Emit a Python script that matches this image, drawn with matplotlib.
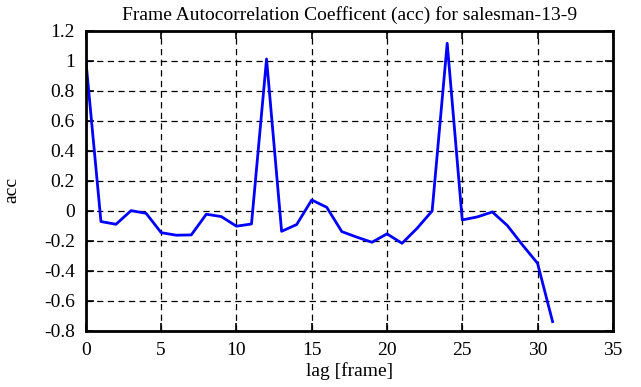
import matplotlib
matplotlib.use('Agg')
import matplotlib.pyplot as plt

plt.rcParams['font.family'] = ['Liberation Serif', 'DejaVu Serif']
plt.rcParams['axes.unicode_minus'] = False

# lag in frames and the autocorrelation
lag = list(range(32))
acc = [1.0, -0.071, -0.089, 0.002, -0.016, -0.145, -0.162, -0.16,
       -0.022, -0.038, -0.102, -0.087, 1.013, -0.136, -0.091, 0.073,
       0.024, -0.138, -0.175, -0.209, -0.153, -0.216, -0.116, 0.0,
       1.118, -0.06, -0.04, -0.007, -0.098, -0.227, -0.349, -0.738]

xticks = [0, 5, 10, 15, 20, 25, 30, 35]
yticks = [-0.8, -0.6, -0.4, -0.2, 0, 0.2, 0.4, 0.6, 0.8, 1, 1.2]

fig = plt.figure(figsize=(6.41, 3.87), dpi=100)
ax = fig.add_axes([0.134, 0.145, 0.822, 0.775])

ax.plot(lag, acc, color='#0000ff', lw=2)

ax.set_xlim(0, 35)
ax.set_ylim(-0.8, 1.2)
ax.set_xticks(xticks)
ax.set_yticks(yticks)
ax.set_yticklabels(['%g' % v for v in yticks])
ax.grid(True, color='black', linestyle=(0, (5, 3.5)), linewidth=0.9)

ax.tick_params(direction='in', length=6, width=1.2, top=True, right=True,
               labelsize=14)
ax.tick_params(axis='y', pad=8)
ax.tick_params(axis='x', pad=8)
for s in ax.spines.values():
    s.set_linewidth(2)

ax.set_title('Frame Autocorrelation Coefficent (acc) for salesman-13-9',
             fontsize=14, pad=8)
ax.set_xlabel('lag [frame]', fontsize=14, labelpad=2)
ax.set_ylabel('acc', fontsize=14)
ax.yaxis.set_label_coords(-0.125, 0.47)

fig.savefig('out.png', dpi=100)
